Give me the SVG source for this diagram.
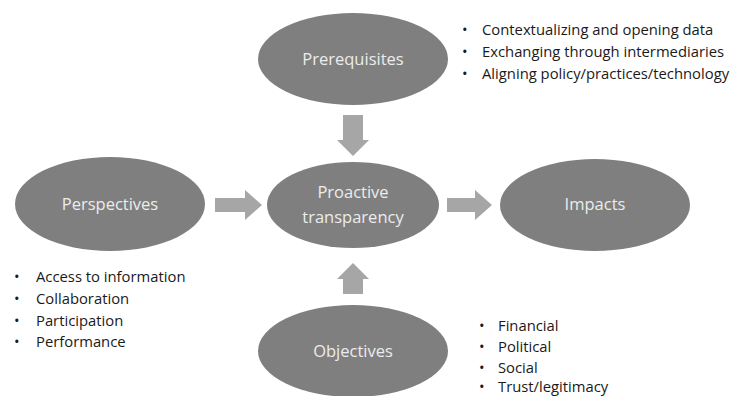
<svg xmlns="http://www.w3.org/2000/svg" width="736" height="396" viewBox="0 0 736 396">
<style>
.node ellipse{fill:#7f7f7f}
.node text{fill:#ececec;font-family:"Open Sans","Liberation Sans",sans-serif;font-size:16.5px;text-anchor:middle}
.arrow{fill:#a6a6a6}
.list{fill:#1a1a1a;font-family:"Open Sans","Liberation Sans",sans-serif;font-size:14.8px}
</style>
<rect width="736" height="396" fill="#ffffff"/>
<g id="connectors">
<polygon class="arrow" points="343,115 363,115 363,140 369,140 353,156 337,140 343,140"/>
<polygon class="arrow" points="343,294 363,294 363,279 369,279 353,263 337,279 343,279"/>
<polygon class="arrow" points="215,198 245,198 245,190 262,205 245,220 245,212 215,212"/>
<polygon class="arrow" points="447,198 475,198 475,190 492,205 475,220 475,212 447,212"/>
</g>
<g id="prerequisites" class="node">
<ellipse cx="353" cy="59" rx="95" ry="46"/>
<text x="353" y="65">Prerequisites</text>
</g>
<g id="perspectives" class="node">
<ellipse cx="110" cy="204" rx="95" ry="47"/>
<text x="110" y="210">Perspectives</text>
</g>
<g id="proactive" class="node">
<ellipse cx="353" cy="205" rx="86" ry="43"/>
<text x="353" y="198">Proactive</text>
<text x="353" y="223">transparency</text>
</g>
<g id="impacts" class="node">
<ellipse cx="595" cy="205" rx="95" ry="46"/>
<text x="595" y="210">Impacts</text>
</g>
<g id="objectives" class="node">
<ellipse cx="353" cy="351" rx="95" ry="46"/>
<text x="353" y="357">Objectives</text>
</g>
<g id="prerequisites-list" class="list">
<text x="462" y="35">•</text><text x="482" y="35">Contextualizing and opening data</text>
<text x="462" y="57">•</text><text x="482" y="57">Exchanging through intermediaries</text>
<text x="462" y="79">•</text><text x="482" y="79">Aligning policy/practices/technology</text>
</g>
<g id="perspectives-list" class="list">
<text x="14" y="282">•</text><text x="36" y="282">Access to information</text>
<text x="14" y="304">•</text><text x="36" y="304">Collaboration</text>
<text x="14" y="326">•</text><text x="36" y="326">Participation</text>
<text x="14" y="347">•</text><text x="36" y="347">Performance</text>
</g>
<g id="objectives-list" class="list">
<text x="479" y="331">•</text><text x="498" y="331">Financial</text>
<text x="479" y="352">•</text><text x="498" y="352">Political</text>
<text x="479" y="373">•</text><text x="498" y="373">Social</text>
<text x="479" y="392">•</text><text x="498" y="392">Trust/legitimacy</text>
</g>
</svg>
